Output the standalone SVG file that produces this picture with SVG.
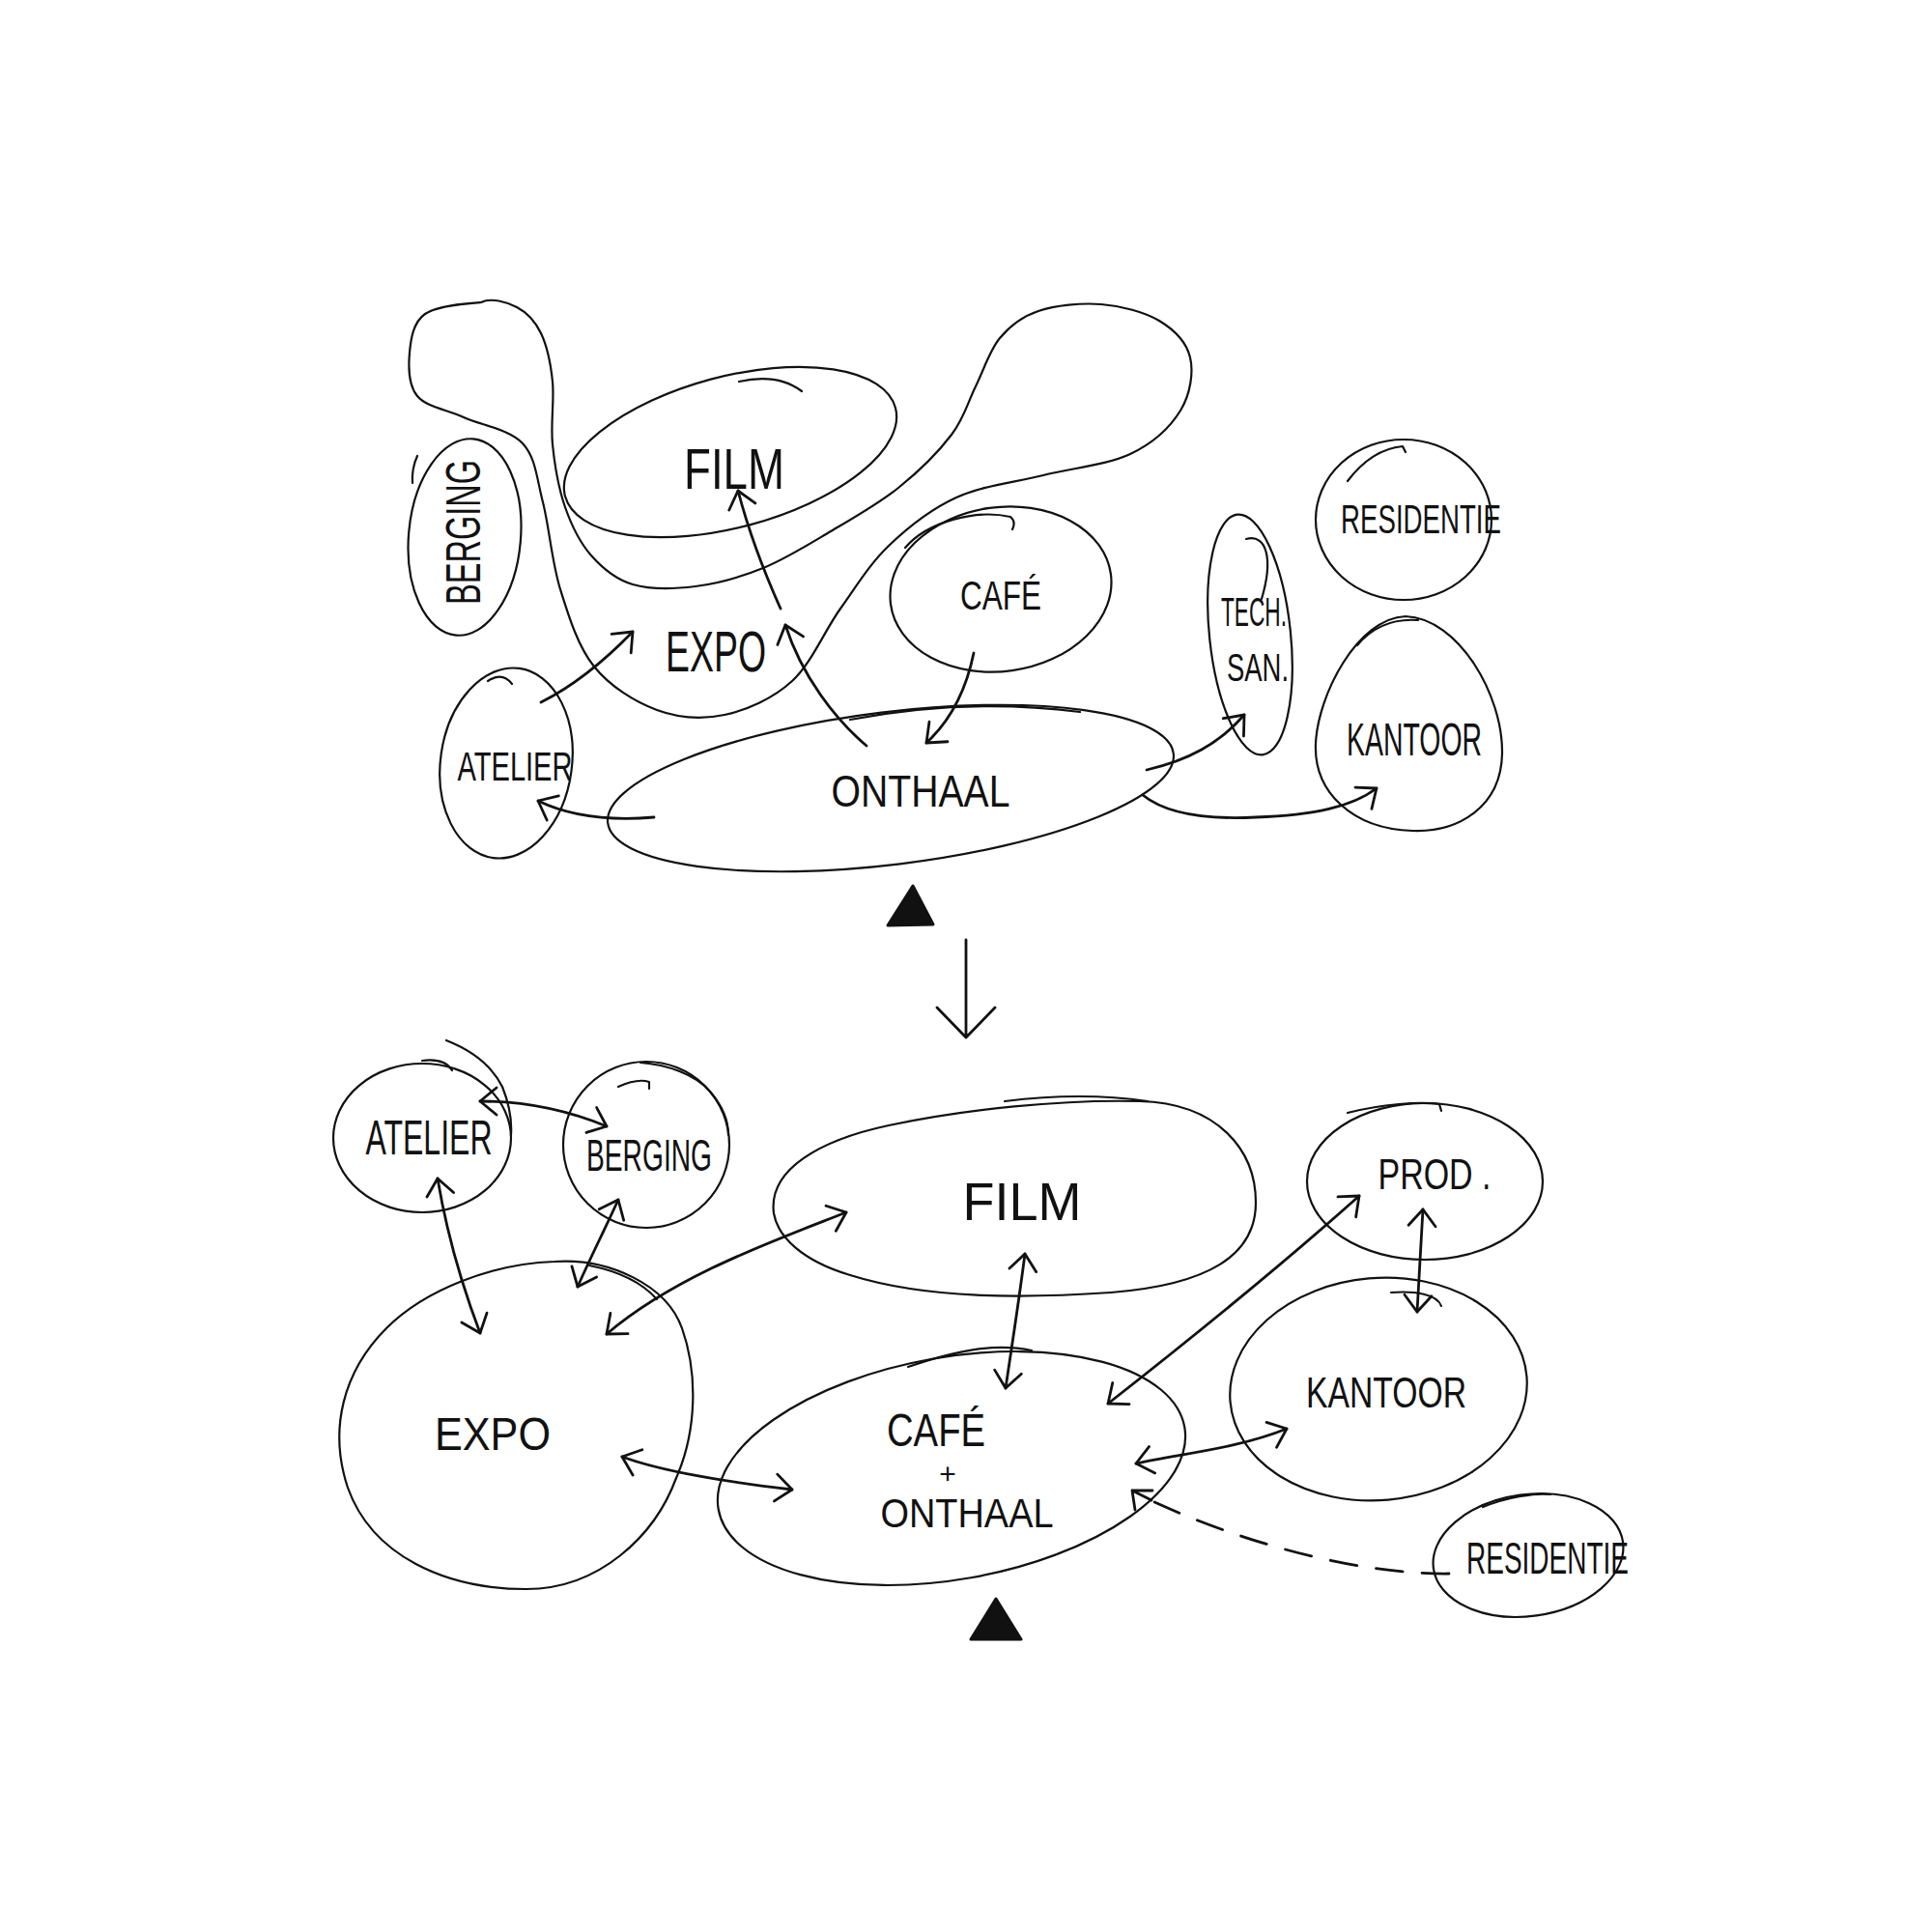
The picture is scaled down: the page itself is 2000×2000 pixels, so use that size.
<svg xmlns="http://www.w3.org/2000/svg" width="2000" height="2000" viewBox="0 0 2000 2000">
<style>
.o{fill:none;stroke:#111;stroke-width:2.2;stroke-linecap:round;stroke-linejoin:round}
.a{fill:none;stroke:#111;stroke-width:2.8;stroke-linecap:round;stroke-linejoin:round}
.d{stroke-dasharray:28 20}
.t{font-family:"Liberation Sans",Arial,sans-serif;fill:#111;text-anchor:middle}
.tri{fill:#111;stroke:#111;stroke-width:3;stroke-linejoin:round}
</style>
<defs>
<marker id="ah" viewBox="-24 -20 30 40" markerWidth="30" markerHeight="40" refX="0" refY="0" markerUnits="userSpaceOnUse" orient="auto-start-reverse">
<path d="M -17,-14 L 0,0 L -17,14" fill="none" stroke="#111" stroke-width="2.8" stroke-linecap="round" stroke-linejoin="round"/>
</marker>
</defs>
<rect width="2000" height="2000" fill="#fff"/>

<!-- TOP DIAGRAM -->
<g id="top-blob">
<path class="o" d="M498,313 C482.2,314.2 452.3,316.3 440,325 C427.7,333.7 425.3,350.8 424,365 C422.7,379.2 422.7,398.8 432,410 C441.3,421.2 461.8,423.8 480,432 C498.2,440.2 527.3,444.3 541,459 C554.7,473.7 555.5,494.8 562,520 C568.5,545.2 571.2,581.7 580,610 C588.8,638.3 598.3,669.2 615,690 C631.7,710.8 657.5,726.7 680,735 C702.5,743.3 726.7,745 750,740 C773.3,735 800,723.3 820,705 C840,686.7 853.3,653.3 870,630 C886.7,606.7 900,584.2 920,565 C940,545.8 963.3,527.2 990,515 C1016.7,502.8 1050,499.5 1080,492 C1110,484.5 1146.3,481.2 1170,470 C1193.7,458.8 1211.7,441.7 1222,425 C1232.3,408.3 1235.7,385.5 1232,370 C1228.3,354.5 1215.3,341.2 1200,332 C1184.7,322.8 1160.8,316.7 1140,315 C1119.2,313.3 1092.5,316.2 1075,322 C1057.5,327.8 1045.8,337 1035,350 C1024.2,363 1018.3,383.3 1010,400 C1001.7,416.7 998.3,432.5 985,450 C971.7,467.5 950.8,488.3 930,505 C909.2,521.7 883.3,536.2 860,550 C836.7,563.8 813.3,578.5 790,588 C766.7,597.5 742.5,604.2 720,607 C697.5,609.8 673,610.3 655,605 C637,599.7 623.7,588.3 612,575 C600.3,561.7 591.7,544.2 585,525 C578.3,505.8 574.2,481.7 572,460 C569.8,438.3 574,414.2 572,395 C570,375.8 566.2,357.8 560,345 C553.8,332.2 545.3,323.3 535,318 C524.7,312.7 508.3,307.7 498,313 Z"/>
</g>
<g id="top-film">
<ellipse class="o" cx="756" cy="468" rx="177" ry="78" transform="rotate(-15 756 468)"/>
<path class="o" d="M765,395 Q805,386 830,405"/>
<text class="t" x="760" y="506" font-size="60" textLength="104" lengthAdjust="spacingAndGlyphs">FILM</text>
</g>
<g id="top-berging">
<ellipse class="o" cx="481" cy="556" rx="58" ry="102" transform="rotate(5 481 556)"/>
<path class="o" d="M432,472 Q426,485 427,500"/>
<text class="t" transform="translate(497,551) rotate(-90)" font-size="50" textLength="150" lengthAdjust="spacingAndGlyphs">BERGING</text>
</g>
<g id="top-expo">
<text class="t" x="741" y="695" font-size="60" textLength="104" lengthAdjust="spacingAndGlyphs">EXPO</text>
</g>
<g id="top-cafe">
<ellipse class="o" cx="1036" cy="610" rx="115" ry="85" transform="rotate(-8 1036 610)"/>
<path class="o" d="M937,567 C960,540 1010,527 1046,535 Q1052,540 1048,548"/>
<text class="t" x="1036" y="631" font-size="43" textLength="84" lengthAdjust="spacingAndGlyphs">CAFÉ</text>
</g>
<g id="top-onthaal">
<ellipse class="o" cx="922" cy="816" rx="295" ry="79" transform="rotate(-7 922 816)"/>
<path class="o" d="M880,745 Q1000,722 1118,737"/>
<text class="t" x="953" y="835" font-size="47" textLength="185" lengthAdjust="spacingAndGlyphs">ONTHAAL</text>
</g>
<g id="top-atelier">
<ellipse class="o" cx="524" cy="790" rx="68" ry="99" transform="rotate(8 524 790)"/>
<path class="o" d="M505,705 Q520,695 530,708"/>
<text class="t" x="533" y="808" font-size="42" textLength="119" lengthAdjust="spacingAndGlyphs">ATELIER</text>
</g>
<g id="top-techsan">
<ellipse class="o" cx="1294" cy="657" rx="42" ry="125" transform="rotate(-6 1294 657)"/>
<path class="o" d="M1290,558 C1312,552 1318,580 1306,620"/>
<text class="t" x="1298" y="648" font-size="42" textLength="68" lengthAdjust="spacingAndGlyphs">TECH.</text>
<text class="t" x="1302" y="705" font-size="40" textLength="64" lengthAdjust="spacingAndGlyphs">SAN.</text>
</g>
<g id="top-residentie">
<ellipse class="o" cx="1453" cy="538" rx="91" ry="83"/>
<path class="o" d="M1395,498 Q1420,465 1452,462 L1455,468"/>
<text class="t" x="1471" y="552" font-size="42" textLength="166" lengthAdjust="spacingAndGlyphs">RESIDENTIE</text>
</g>
<g id="top-kantoor">
<path class="o" d="M1455,638 C1510,640 1556,720 1555,780 C1554,835 1510,862 1462,860 C1400,858 1360,820 1362,770 C1364,720 1405,640 1455,638 Z"/>
<path class="o" d="M1405,668 C1420,650 1440,640 1468,642"/>
<text class="t" x="1464" y="782" font-size="48" textLength="140" lengthAdjust="spacingAndGlyphs">KANTOOR</text>
</g>
<g id="top-entrance">
<path class="tri" d="M945,917 L966,957 L919,958 Z"/>
</g>

<g id="top-connectors">
<path class="a" marker-end="url(#ah)" d="M560,727 C590,712 620,690 655,654"/>
<path class="a" marker-end="url(#ah)" d="M808,630 C790,590 775,550 764,508"/>
<path class="a" marker-end="url(#ah)" d="M897,772 C865,745 830,700 813,647"/>
<path class="a" marker-end="url(#ah)" d="M1008,676 C1000,715 985,745 959,769"/>
<path class="a" marker-end="url(#ah)" d="M677,846 C630,850 590,845 557,829"/>
<path class="a" marker-end="url(#ah)" d="M1187,797 C1230,787 1262,770 1288,740"/>
<path class="a" marker-end="url(#ah)" d="M1183,823 C1210,845 1260,848 1300,846 C1360,844 1400,835 1425,816"/>
</g>

<g id="transition-arrow">
<path class="a" d="M1000,973 L1000,1074 M970,1043 L1000,1074 L1030,1043"/>
</g>

<!-- BOTTOM DIAGRAM -->
<g id="bot-atelier">
<ellipse class="o" cx="437" cy="1178" rx="92" ry="77"/>
<path class="o" d="M462,1077 C490,1088 510,1105 520,1125 C528,1145 530,1160 529,1175"/>
<path class="o" d="M437,1098 Q460,1095 468,1108"/>
<text class="t" x="444" y="1195" font-size="50" textLength="131" lengthAdjust="spacingAndGlyphs">ATELIER</text>
</g>
<g id="bot-berging">
<ellipse class="o" cx="669" cy="1185" rx="86" ry="86"/>
<path class="o" d="M663,1100 C690,1102 720,1112 735,1130 C748,1145 754,1160 754,1175"/>
<path class="o" d="M640,1125 Q660,1116 672,1120 L672,1127"/>
<text class="t" x="672" y="1212" font-size="46" textLength="130" lengthAdjust="spacingAndGlyphs">BERGING</text>
</g>
<g id="bot-expo">
<path class="o" d="M574,1306 C630,1302 690,1330 706,1375 C722,1420 722,1480 700,1530 C678,1590 620,1645 545,1645 C460,1645 385,1610 360,1540 C340,1480 355,1420 400,1375 C440,1335 510,1308 574,1306 Z"/>
<path class="o" d="M610,1310 C640,1316 665,1328 680,1345"/>
<text class="t" x="510" y="1501" font-size="48" textLength="120" lengthAdjust="spacingAndGlyphs">EXPO</text>
</g>
<g id="bot-film">
<path class="o" d="M801,1256 C795,1210 850,1180 920,1165 C1000,1148 1100,1138 1180,1140 C1260,1142 1300,1190 1300,1245 C1300,1300 1250,1330 1150,1338 C1060,1344 960,1345 880,1320 C830,1305 805,1280 801,1256 Z"/>
<path class="o" d="M1040,1140 Q1120,1130 1188,1140"/>
<text class="t" x="1058" y="1263" font-size="55" textLength="123" lengthAdjust="spacingAndGlyphs">FILM</text>
</g>
<g id="bot-cafe-onthaal">
<ellipse class="o" cx="985" cy="1520" rx="245" ry="115" transform="rotate(-10 985 1520)"/>
<path class="o" d="M940,1415 C990,1398 1030,1390 1068,1398"/>
<text class="t" x="969" y="1497" font-size="48" textLength="102" lengthAdjust="spacingAndGlyphs">CAFÉ</text>
<text class="t" x="981" y="1536" font-size="30">+</text>
<text class="t" x="1001" y="1581" font-size="42" textLength="179" lengthAdjust="spacingAndGlyphs">ONTHAAL</text>
</g>
<g id="bot-prod">
<ellipse class="o" cx="1475" cy="1223" rx="122" ry="81"/>
<path class="o" d="M1395,1152 C1430,1143 1470,1140 1490,1143 L1492,1150"/>
<text class="t" x="1485" y="1231" font-size="44" textLength="117" lengthAdjust="spacingAndGlyphs">PROD .</text>
</g>
<g id="bot-kantoor">
<ellipse class="o" cx="1427" cy="1438" rx="154" ry="115" transform="rotate(-5 1427 1438)"/>
<path class="o" d="M1440,1338 C1465,1336 1488,1340 1492,1352"/>
<text class="t" x="1435" y="1457" font-size="44" textLength="166" lengthAdjust="spacingAndGlyphs">KANTOOR</text>
</g>
<g id="bot-residentie">
<ellipse class="o" cx="1582" cy="1610" rx="99" ry="63" transform="rotate(-8 1582 1610)"/>
<path class="o" d="M1535,1560 C1560,1550 1590,1545 1605,1547"/>
<text class="t" x="1602" y="1629" font-size="46" textLength="168" lengthAdjust="spacingAndGlyphs">RESIDENTIE</text>
</g>
<g id="bot-entrance">
<path class="tri" d="M1031,1655 L1057,1697 L1005,1697 Z"/>
</g>

<g id="bottom-connectors">
<path class="a" marker-start="url(#ah)" marker-end="url(#ah)" d="M497,1140 Q565,1140 628,1166"/>
<path class="a" marker-start="url(#ah)" marker-end="url(#ah)" d="M453,1220 C463,1280 478,1330 497,1380"/>
<path class="a" marker-start="url(#ah)" marker-end="url(#ah)" d="M640,1242 C625,1275 612,1300 598,1332"/>
<path class="a" marker-start="url(#ah)" marker-end="url(#ah)" d="M876,1255 C800,1285 700,1320 628,1381"/>
<path class="a" marker-start="url(#ah)" marker-end="url(#ah)" d="M644,1508 C690,1525 760,1535 820,1542"/>
<path class="a" marker-start="url(#ah)" marker-end="url(#ah)" d="M1061,1298 C1055,1345 1048,1390 1041,1437"/>
<path class="a" marker-start="url(#ah)" marker-end="url(#ah)" d="M1407,1238 Q1304,1330 1147,1453"/>
<path class="a" marker-start="url(#ah)" marker-end="url(#ah)" d="M1473,1252 L1467,1358"/>
<path class="a" marker-start="url(#ah)" marker-end="url(#ah)" d="M1176,1515 C1220,1505 1280,1500 1332,1479"/>
<path class="a d" d="M1500,1629 C1420,1630 1300,1605 1180,1548"/>
<path class="a" d="M1172,1543 L1192,1553 M1193,1543 L1172,1543 L1175,1563"/>
</g>
</svg>
